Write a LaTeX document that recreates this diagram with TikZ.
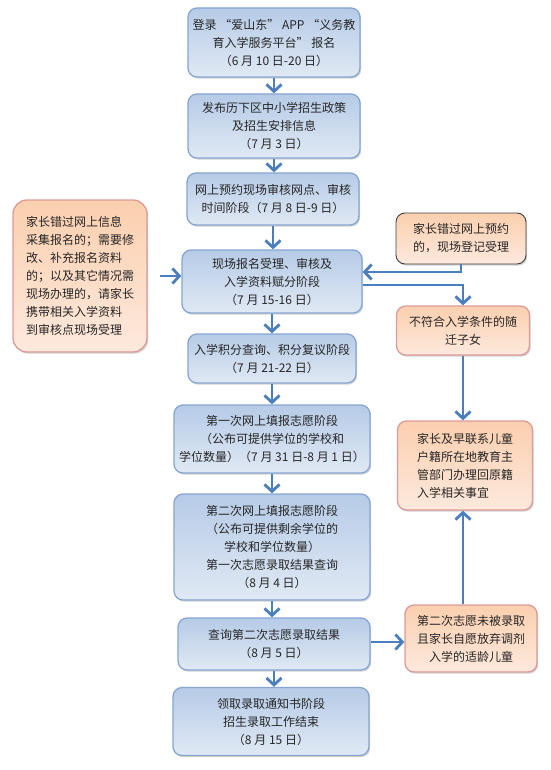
\documentclass[tikz,border=0pt]{standalone}
\usepackage{fontspec}
\newfontfamily\cjk{Noto Sans CJK SC}
\usetikzlibrary{arrows.meta,shadows}
\definecolor{stagetop}{HTML}{B6CBE7}
\definecolor{stagebot}{HTML}{E0E9F4}
\definecolor{stageline}{HTML}{86A6D2}
\definecolor{asidetop}{HTML}{FBCFAE}
\definecolor{asidebot}{HTML}{FDE9DD}
\definecolor{asideline}{HTML}{DC9A98}
\definecolor{flowblue}{HTML}{4A7EBF}

\tikzset{
  stage/.style={draw=stageline,line width=1.3pt,rounded corners=9pt,
    top color=stagetop,bottom color=stagebot,align=center,text=black!85,
    font=\cjk\fontsize{12}{18}\selectfont,
    drop shadow={shadow xshift=1.2pt,shadow yshift=-1.6pt,opacity=0.35}},
  aside/.style={stage,draw=asideline,top color=asidetop,bottom color=asidebot},
  flow/.style={draw=flowblue,line width=2.8pt,
    -{Straight Barb[length=7pt,width=15pt]}}
}

\begin{document}
\begin{tikzpicture}[x=1pt,y=-1pt]
\useasboundingbox (0,0) rectangle (550,770);
% main stages
\node[stage,minimum width=172pt,minimum height=69pt] (login) at (274,42.5)
  {登录 “爱山东” APP “义务教\\育入学服务平台” 报名\\（6 月 10 日-20 日）};
\node[stage,minimum width=172pt,minimum height=64pt] (policy) at (274,126)
  {发布历下区中小学招生政策\\及招生安排信息\\（7 月 3 日）};
\node[stage,minimum width=172pt,minimum height=52pt] (book) at (273,199)
  {网上预约现场审核网点、审核\\时间阶段（7 月 8 日-9 日）};
\node[stage,minimum width=180pt,minimum height=63pt] (onsite) at (272,281.5)
  {现场报名受理、审核及\\入学资料赋分阶段\\（7 月 15-16 日）};
\node[stage,minimum width=168pt,minimum height=49pt] (score) at (272,358.5)
  {入学积分查询、积分复议阶段\\（7 月 21-22 日）};
\node[stage,minimum width=196pt,minimum height=68pt] (wish1) at (272,439)
  {第一次网上填报志愿阶段\\（公布可提供学位的学校和\\学位数量）（7 月 31 日-8 月 1 日）};
\node[stage,minimum width=196pt,minimum height=106pt] (wish2) at (272,547)
  {第二次网上填报志愿阶段\\（公布可提供剩余学位的\\学校和学位数量）\\第一次志愿录取结果查询\\（8 月 4 日）};
\node[stage,minimum width=192pt,minimum height=52pt] (result) at (274,644)
  {查询第二次志愿录取结果\\（8 月 5 日）};
\node[stage,minimum width=196pt,minimum height=68pt] (notice) at (271,721.5)
  {领取录取通知书阶段\\招生录取工作结束\\（8 月 15 日）};
% side notes
\node[aside,rounded corners=14pt,minimum width=134pt,minimum height=152pt,align=left] (missed) at (80,276)
  {家长错过网上信息\\采集报名的；需要修\\改、补充报名资料\\的；以及其它情况需\\现场办理的，请家长\\携带相关入学资料\\到审核点现场受理};
\node[aside,draw=black!75,line width=0.9pt,minimum width=130pt,minimum height=51pt,align=left] (late) at (461,238.5)
  {家长错过网上预约\\的，现场登记受理};
\node[aside,minimum width=133pt,minimum height=49pt] (unfit) at (463,330.5)
  {不符合入学条件的随\\迁子女};
\node[aside,minimum width=135pt,minimum height=89pt,align=left] (home) at (465,465.5)
  {家长及早联系儿童\\户籍所在地教育主\\管部门办理回原籍\\入学相关事宜};
\node[aside,minimum width=132pt,minimum height=67pt] (giveup) at (471,638.5)
  {第二次志愿未被录取\\且家长自愿放弃调剂\\入学的适龄儿童};
% connectors
\foreach \a/\b in {login/policy,policy/book,book/onsite,onsite/score,
  score/wish1,wish1/wish2,wish2/result,result/notice}
  \draw[flow] (\a.south) -- (\a.south |- \b.north);
\draw[flow] ([xshift=12pt]missed.east) -- (missed.east -| onsite.west);
\draw[flow] (late.south) |- ([yshift=9.5pt]onsite.east);
\draw[flow] ([yshift=-3.5pt]onsite.east) -| (unfit.north);
\draw[flow] (unfit.south) -- (unfit.south |- home.north);
\draw[flow] (giveup.north -| unfit.south) -- (unfit.south |- home.south);
\draw[flow] ([yshift=2pt]result.east) -- ([yshift=2pt]result.east -| giveup.west);
\end{tikzpicture}
\end{document}
